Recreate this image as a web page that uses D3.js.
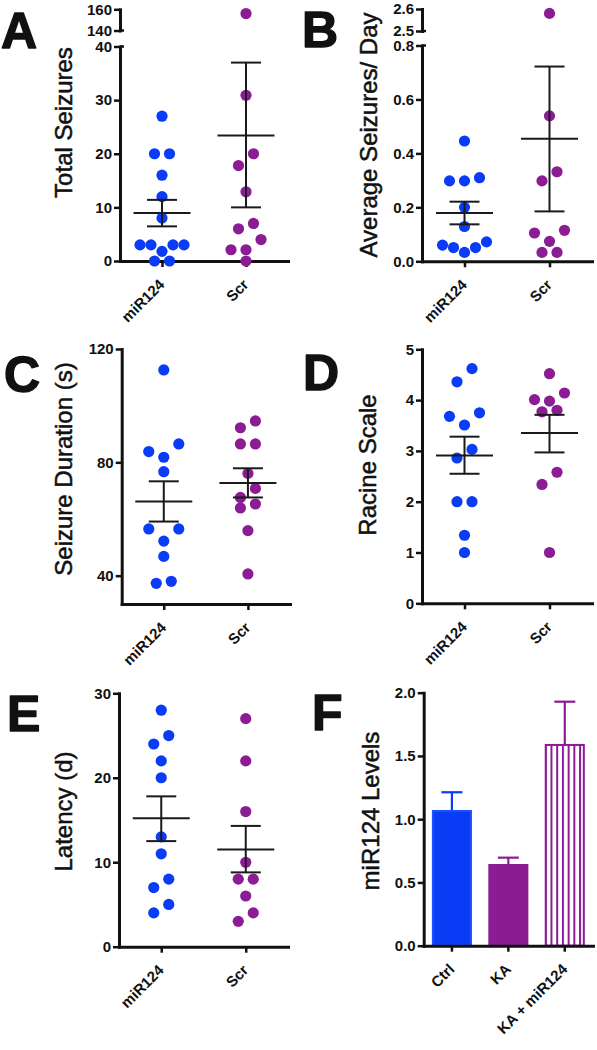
<!DOCTYPE html>
<html><head><meta charset="utf-8">
<script src="https://cdn.jsdelivr.net/npm/d3@7"></script>
<style>body{margin:0;background:#fff} svg{display:block}</style>
</head><body><svg id="c" width="597" height="1050"></svg>
<script>
// ---------- DATA ----------
const groups = ["miR124", "Scr"];

// A: Total Seizures
const totalMiR = [27, 20, 20, 16, 12, 8, 3, 3, 3, 3, 1.8, 0, 0];
const totalScr = [156, 30.9, 20, 17.8, 12.9, 7, 6, 4, 2.1, 2.1, 0];
const totalMean = [8.94, 23.4];
const totalSemLo = [6.46, 10.0];
const totalSemHi = [11.4, 37.0];
const totalTicksLow = [0, 10, 20, 30, 40];
const totalTicksHigh = [140, 160];

// B: Average Seizures / Day
const avgMiR = [0.446, 0.298, 0.298, 0.31, 0.2, 0.129, 0.072, 0.051, 0.051, 0.06, 0.033];
const avgScr = [2.58, 0.539, 0.332, 0.298, 0.115, 0.105, 0.074, 0.033, 0.033];
const avgMean = [0.179, 0.454];
const avgSemLo = [0.137, 0.185];
const avgSemHi = [0.221, 0.722];
const avgTicksLow = [0, 0.2, 0.4, 0.6, 0.8];
const avgTicksHigh = [2.5, 2.6];

// C: Seizure Duration (s)
const durMiR = [112.6, 83.8, 81.8, 86.5, 76.7, 56.5, 56.5, 52.2, 46.8, 37.3, 38.0];
const durScr = [94.6, 92.2, 86.5, 86.5, 76.1, 70.8, 67.6, 63.9, 65.3, 55.9, 40.6];
const durMean = [66.2, 72.7];
const durSemLo = [59.1, 67.6];
const durSemHi = [73.3, 77.9];
const durTicks = [40, 80, 120];

// D: Racine Scale
const racMiR = [4.62, 4.36, 3.75, 3.68, 3.51, 3.03, 2.86, 2.0, 2.0, 1.34, 1.0];
const racScr = [4.52, 4.14, 3.98, 4.01, 3.77, 3.80, 2.58, 2.34, 1.0];
const racMean = [2.91, 3.35];
const racSemLo = [2.55, 2.97];
const racSemHi = [3.28, 3.71];
const racTicks = [0, 1, 2, 3, 4, 5];

// E: Latency (d)
const latMiR = [28, 25, 24, 22, 20, 13, 11, 8, 7, 5, 4];
const latScr = [27, 22, 16, 10, 8, 8, 6, 4, 3];
const latMean = [15.2, 11.5];
const latSemLo = [12.5, 8.8];
const latSemHi = [17.8, 14.3];
const latTicks = [0, 10, 20, 30];

// F: miR124 Levels
const levelCats = ["Ctrl", "KA", "KA + miR124"];
const levelVals = [1.065, 0.638, 1.587];
const levelErr = [1.213, 0.696, 1.929];
const levelTicks = [0, 0.5, 1.0, 1.5, 2.0];

// ---------- STYLE ----------
const FONT = '"Liberation Sans", Arial, Helvetica, sans-serif';
const INK = "#111";
const BLUE = "#0a3cf5";
const PURPLE = "#8c1c94";
const groupColors = [BLUE, PURPLE];
const R = 5.6;

const svg = d3.select("#c");

function styleAxis(g) {
  g.attr("font-family", FONT).attr("font-size", 15).attr("font-weight", "bold");
  g.select(".domain").attr("stroke", INK).attr("stroke-width", 3).attr("stroke-linecap", "square");
  g.selectAll(".tick line").attr("stroke", INK).attr("stroke-width", 2.5);
  g.selectAll(".tick text").attr("fill", INK);
}

// symmetric cluster spreading (scatter-dot style)
function swarm(pys, s, T) {
  const idx = pys.map((p, i) => i).sort((a, b) => pys[a] - pys[b]);
  const off = new Array(pys.length);
  let i = 0;
  while (i < idx.length) {
    let j = i;
    while (j + 1 < idx.length && pys[idx[j + 1]] - pys[idx[i]] < T) j++;
    const cl = idx.slice(i, j + 1).sort((a, b) => pys[b] - pys[a]);
    const k = cl.length;
    const sp = k >= 5 ? Math.min(s, 44 / (k - 1)) : s;
    const slots = [];
    if (k % 2) { slots.push(0); for (let m = 1; slots.length < k; m++) slots.push(-m * sp, m * sp); }
    else { for (let m = 0; slots.length < k; m++) slots.push(-(m + 0.5) * sp, (m + 0.5) * sp); }
    cl.forEach((id, q) => off[id] = slots[q]);
    i = j + 1;
  }
  return off;
}

function letter(t, x, y) {
  svg.append("text").attr("x", x).attr("y", y).text(t)
    .attr("font-family", FONT).attr("font-weight", "bold").attr("font-size", 50)
    .attr("fill", INK).attr("stroke", INK).attr("stroke-width", 1.4).attr("stroke-linejoin", "round");
}
function ylabel(t, x, y) {
  svg.append("text").attr("transform", `translate(${x},${y}) rotate(-90)`)
    .attr("text-anchor", "middle").text(t)
    .attr("font-family", FONT).attr("font-size", 24).attr("fill", INK)
    .attr("stroke", INK).attr("stroke-width", 0.5);
}
function catLabels(xs, cats, yAxis) {
  svg.append("g").selectAll("text").data(cats).join("text")
    .attr("transform", d => `translate(${xs(d) + 3.5},${yAxis + 24.5}) rotate(-45)`)
    .attr("text-anchor", "end").text(d => d)
    .attr("font-family", FONT).attr("font-size", 15).attr("font-weight", "bold").attr("fill", INK);
}

// Generic scatter panel
function scatterPanel(cfg) {
  const { x0, x1, yLow, yHigh, ticksLow, ticksHigh, fmt, series, mean, lo, hi } = cfg;
  const x = d3.scalePoint().domain(groups).range([x0, x1]).padding(0.5);
  const yBottom = yLow.range()[0];
  const ypix = v => (yHigh && v >= yHigh.domain()[0]) ? yHigh(v) : yLow(v);

  const gl = svg.append("g").attr("transform", `translate(${x0},0)`)
    .call(d3.axisLeft(yLow).tickValues(ticksLow).tickFormat(fmt).tickSize(6).tickSizeOuter(0).tickPadding(2));
  styleAxis(gl);
  if (yHigh) {
    const gh = svg.append("g").attr("transform", `translate(${x0},0)`)
      .call(d3.axisLeft(yHigh).tickValues(ticksHigh).tickFormat(fmt).tickSize(6).tickSizeOuter(0).tickPadding(2));
    styleAxis(gh);
    [yLow(yLow.domain()[1]), yHigh(yHigh.domain()[0])].forEach(yy => {
      svg.append("line").attr("x1", x0).attr("x2", x0 + 4).attr("y1", yy).attr("y2", yy)
        .attr("stroke", INK).attr("stroke-width", 2.5);
    });
  }
  const gx = svg.append("g").attr("transform", `translate(0,${yBottom})`)
    .call(d3.axisBottom(x).tickSize(6).tickSizeOuter(0).tickFormat(""));
  styleAxis(gx);
  catLabels(x, groups, yBottom);

  series.forEach((vals, gi) => {
    const pys = vals.map(ypix);
    const offs = swarm(pys, 15, 14);
    svg.append("g").selectAll("circle").data(vals).join("circle")
      .attr("cx", (d, i) => x(groups[gi]) + offs[i])
      .attr("cy", (d, i) => pys[i])
      .attr("r", R).attr("fill", groupColors[gi]);
  });
  const eb = svg.append("g").attr("stroke", "#1a1a1a").attr("stroke-width", 2).attr("fill", "none");
  groups.forEach((g, gi) => {
    const cx = x(g);
    eb.append("line").attr("x1", cx - 28.5).attr("x2", cx + 28.5).attr("y1", yLow(mean[gi])).attr("y2", yLow(mean[gi]));
    eb.append("line").attr("x1", cx).attr("x2", cx).attr("y1", yLow(lo[gi])).attr("y2", yLow(hi[gi]));
    eb.append("line").attr("x1", cx - 15).attr("x2", cx + 15).attr("y1", yLow(lo[gi])).attr("y2", yLow(lo[gi]));
    eb.append("line").attr("x1", cx - 15).attr("x2", cx + 15).attr("y1", yLow(hi[gi])).attr("y2", yLow(hi[gi]));
  });
}

// ---------- PANEL A ----------
scatterPanel({
  x0: 120, x1: 288,
  yLow: d3.scaleLinear().domain([0, 40]).range([261, 46.5]),
  yHigh: d3.scaleLinear().domain([140, 160]).range([30.5, 9.3]),
  ticksLow: totalTicksLow, ticksHigh: totalTicksHigh, fmt: d3.format("d"),
  series: [totalMiR, totalScr], mean: totalMean, lo: totalSemLo, hi: totalSemHi
});
letter("A", 1, 48);
ylabel("Total Seizures", 72, 122.5);

// ---------- PANEL B ----------
scatterPanel({
  x0: 422, x1: 592,
  yLow: d3.scaleLinear().domain([0, 0.8]).range([261.3, 45.5]),
  yHigh: d3.scaleLinear().domain([2.5, 2.6]).range([31, 9]),
  ticksLow: avgTicksLow, ticksHigh: avgTicksHigh, fmt: d3.format(".1f"),
  series: [avgMiR, avgScr], mean: avgMean, lo: avgSemLo, hi: avgSemHi
});
letter("B", 302, 47);
ylabel("Average Seizures/ Day", 377, 135);

// ---------- PANEL C ----------
scatterPanel({
  x0: 121.7, x1: 290,
  yLow: d3.scaleLinear().domain([30, 120]).range([604, 349]),
  ticksLow: durTicks, fmt: d3.format("d"),
  series: [durMiR, durScr], mean: durMean, lo: durSemLo, hi: durSemHi
});
letter("C", 4, 392);
ylabel("Seizure Duration (s)", 72, 469);

// ---------- PANEL D ----------
scatterPanel({
  x0: 422, x1: 592,
  yLow: d3.scaleLinear().domain([0, 5]).range([603.3, 349.3]),
  ticksLow: racTicks, fmt: d3.format("d"),
  series: [racMiR, racScr], mean: racMean, lo: racSemLo, hi: racSemHi
});
letter("D", 303, 390);
ylabel("Racine Scale", 376, 465);

// ---------- PANEL E ----------
scatterPanel({
  x0: 119, x1: 288,
  yLow: d3.scaleLinear().domain([0, 30]).range([946.7, 693.3]),
  ticksLow: latTicks, fmt: d3.format("d"),
  series: [latMiR, latScr], mean: latMean, lo: latSemLo, hi: latSemHi
});
letter("E", 7, 731);
ylabel("Latency (d)", 72, 811.5);

// ---------- PANEL F ----------
(function () {
  const x0 = 423.7, x1 = 593;
  const x = d3.scaleBand().domain(levelCats).range([x0, x1]).paddingInner(0.29).paddingOuter(0.145);
  const y = d3.scaleLinear().domain([0, 2]).range([945.7, 692.7]);
  const bw = x.bandwidth();
  const fills = [BLUE, PURPLE, "url(#stripes)"];
  const strokes = ["#1d50ff", PURPLE, PURPLE];
  const errColors = [BLUE, PURPLE, PURPLE];

  const defs = svg.append("defs");
  const pat = defs.append("pattern").attr("id", "stripes").attr("patternUnits", "userSpaceOnUse")
    .attr("x", x(levelCats[2])).attr("y", 0).attr("width", bw / 7).attr("height", 10);
  pat.append("rect").attr("width", bw / 7).attr("height", 10).attr("fill", "#fff");
  pat.append("rect").attr("x", 0).attr("width", 2).attr("height", 10).attr("fill", PURPLE);

  const eb = svg.append("g").attr("stroke-width", 2.2);
  levelCats.forEach((c, i) => {
    const cx = x(c) + bw / 2;
    eb.append("line").attr("x1", cx).attr("x2", cx).attr("y1", y(levelVals[i])).attr("y2", y(levelErr[i])).attr("stroke", errColors[i]);
    eb.append("line").attr("x1", cx - 10.5).attr("x2", cx + 10.5).attr("y1", y(levelErr[i])).attr("y2", y(levelErr[i])).attr("stroke", errColors[i]);
  });
  svg.append("g").selectAll("rect").data(levelVals).join("rect")
    .attr("x", (d, i) => x(levelCats[i]) + 1)
    .attr("width", bw - 2)
    .attr("y", d => y(d))
    .attr("height", d => y(0) - y(d))
    .attr("fill", (d, i) => fills[i])
    .attr("stroke", (d, i) => strokes[i]).attr("stroke-width", 2);

  const gy = svg.append("g").attr("transform", `translate(${x0},0)`)
    .call(d3.axisLeft(y).tickValues(levelTicks).tickFormat(d3.format(".1f")).tickSize(6).tickSizeOuter(0).tickPadding(2));
  styleAxis(gy);
  const gx = svg.append("g").attr("transform", `translate(0,${y(0)})`)
    .call(d3.axisBottom(x).tickSize(6).tickSizeOuter(0).tickFormat(""));
  styleAxis(gx);
  catLabels(c => x(c) + bw / 2, levelCats, y(0));
  letter("F", 312, 730);
  ylabel("miR124 Levels", 379, 811);
})();
</script>
</body></html>
